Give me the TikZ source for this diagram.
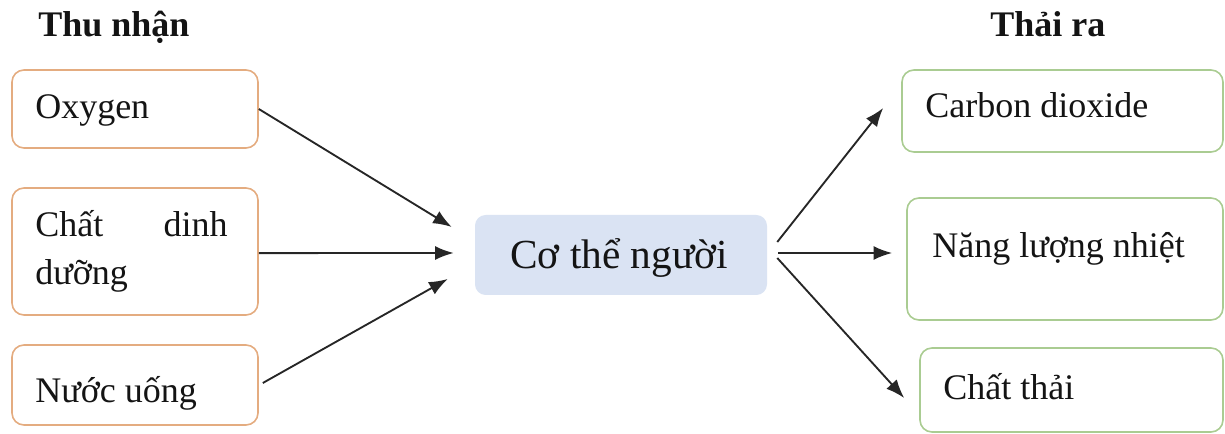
\documentclass[tikz,border=0pt]{standalone}
\usepackage{fontspec}
\setmainfont{Liberation Serif}
\usetikzlibrary{arrows.meta}
\definecolor{lorange}{RGB}{228,172,128}
\definecolor{lgreen}{RGB}{170,204,146}
\definecolor{bodyfill}{RGB}{218,227,243}
\begin{document}
\begin{tikzpicture}[x=0.75pt,y=-0.75pt,
  inbox/.style={draw=lorange,line width=1.2pt,rounded corners=9pt,minimum width=184.5pt,inner sep=0pt},
  outbox/.style={draw=lgreen,line width=1.2pt,rounded corners=9pt,inner sep=0pt},
  bodybox/.style={fill=bodyfill,rounded corners=8pt,inner sep=0pt,minimum width=219pt,minimum height=60pt},
  txt/.style={inner sep=0pt,anchor=base west,font=\fontsize{27}{32}\selectfont,text=black!92},
  ttl/.style={inner sep=0pt,anchor=base west,font=\fontsize{27}{32}\selectfont\bfseries,text=black!92},
  arr/.style={-{Latex[length=14pt,width=10.5pt]},line width=1.4pt,draw=black!85}]
\useasboundingbox (0,0) rectangle (1225,434);
% titles
\node[ttl] (tin) at (38,37) {Thu nhận};
\node[ttl] (tout) at (990,37) {Thải ra};
% input boxes
\node[inbox,minimum height=58.5pt] (ox) at (135,109) {};
\node[inbox,minimum height=95.25pt] (ch) at (135,251.5) {};
\node[inbox,minimum height=60pt] (nu) at (135,385) {};
\node[txt] (oxt) at (35,119) {Oxygen};
\node[txt] (cht1) at (35,237) {Chất};
\node[txt,anchor=base east] (cht2) at (228,237) {dinh};
\node[txt] (cht3) at (35,285) {dưỡng};
\node[txt] (nut) at (35,403) {Nước uống};
% body
\node[bodybox] (body) at (621,255) {};
\node[txt,font=\fontsize{31}{36}\selectfont] (bodyt) at (510,269) {Cơ thể người};
% output boxes
\node[outbox,minimum width=240.75pt,minimum height=61.5pt] (co2) at (1062.5,111) {};
\node[outbox,minimum width=237pt,minimum height=91.5pt] (ne) at (1065,259) {};
\node[outbox,minimum width=227.25pt,minimum height=63pt] (ct) at (1071.5,390) {};
\node[txt] (co2t) at (925,118) {Carbon dioxide};
\node[txt] (net) at (932,258) {Năng lượng nhiệt};
\node[txt] (ctt) at (943,400) {Chất thải};
% arrows in
\draw[arr] (ox.east) -- ([xshift=-17.25pt,yshift=21pt]body.west);
\draw[arr] ([yshift=-1.2pt]ch.east) -- ([xshift=-15.75pt,yshift=1.5pt]body.west);
\draw[arr] ([xshift=3pt,yshift=1.5pt]nu.east) -- ([xshift=-20.25pt,yshift=-18pt]body.west);
% arrows out
\draw[arr] ([xshift=7.5pt,yshift=9.75pt]body.east) -- ([xshift=-13.5pt,yshift=2.25pt]co2.west);
\draw[arr] ([xshift=8.25pt,yshift=1.5pt]body.east) -- ([xshift=-10.5pt,yshift=4.5pt]ne.west);
\draw[arr] ([xshift=7.5pt,yshift=-2.25pt]body.east) -- ([xshift=-11.25pt,yshift=-6pt]ct.west);
\end{tikzpicture}
\end{document}
